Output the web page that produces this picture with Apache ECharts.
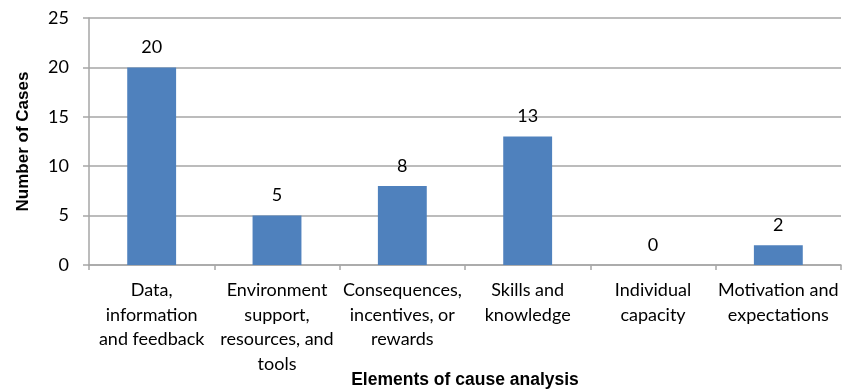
<!DOCTYPE html>
<html>
<head>
<meta charset="utf-8">
<script src="https://cdn.jsdelivr.net/npm/echarts@6/dist/echarts.min.js"></script>
<style>
  html, body { margin: 0; padding: 0; background: #ffffff; }
  #chart { width: 856px; height: 389px; }
</style>
</head>
<body>
<div id="chart"></div>
<script>
// Cause-analysis elements and how many cases fall under each
const categories = [
  'Data,\ninformation\nand feedback',
  'Environment\nsupport,\nresources, and\ntools',
  'Consequences,\nincentives, or\nrewards',
  'Skills and\nknowledge',
  'Individual\ncapacity',
  'Motivation and\nexpectations'
];
const caseCounts = [20, 5, 8, 13, 0, 2];
const yTicks = { min: 0, max: 25, step: 5 };

const chart = echarts.init(document.getElementById('chart'));
const labelFont = 'Lato, "Open Sans", sans-serif';
const titleFont = '"Liberation Sans", Arial, sans-serif';
const gridGray = '#a6a6a6';

chart.setOption({
  animation: false,
  grid: {
    left: 89, right: 15, top: 18, bottom: 124,
    containLabel: false,
    outerBoundsMode: 'none'
  },
  xAxis: {
    type: 'category',
    data: categories,
    name: 'Elements of cause analysis',
    nameLocation: 'middle',
    nameGap: 106,
    nameMoveOverlap: false,
    nameTextStyle: { fontFamily: titleFont, fontWeight: 'bold', fontSize: 17.5, color: '#000' },
    axisLine: { lineStyle: { color: gridGray, width: 1.5 } },
    axisTick: { show: true, length: 5, lineStyle: { color: gridGray, width: 1.5 } },
    axisLabel: {
      interval: 0,
      margin: 13,
      fontFamily: labelFont,
      fontSize: 18,
      lineHeight: 24.5,
      color: '#000'
    }
  },
  yAxis: {
    type: 'value',
    min: yTicks.min,
    max: yTicks.max,
    interval: yTicks.step,
    name: 'Number of Cases',
    nameLocation: 'middle',
    nameGap: 57,
    nameMoveOverlap: false,
    nameTextStyle: { fontFamily: titleFont, fontWeight: 'bold', fontSize: 17, color: '#000' },
    axisLine: { show: true, lineStyle: { color: gridGray, width: 1.5 } },
    axisTick: { show: true, length: 6, lineStyle: { color: gridGray, width: 1.5 } },
    axisLabel: { margin: 20, fontFamily: labelFont, fontSize: 18, color: '#000' },
    splitLine: { show: true, lineStyle: { color: gridGray, width: 1.5 } }
  },
  series: [{
    type: 'bar',
    data: caseCounts,
    barWidth: '39%',
    itemStyle: { color: '#4f81bd' },
    label: {
      show: true,
      position: 'top',
      distance: 11,
      fontFamily: labelFont,
      fontSize: 18,
      color: '#000'
    }
  }]
});
</script>
</body>
</html>
